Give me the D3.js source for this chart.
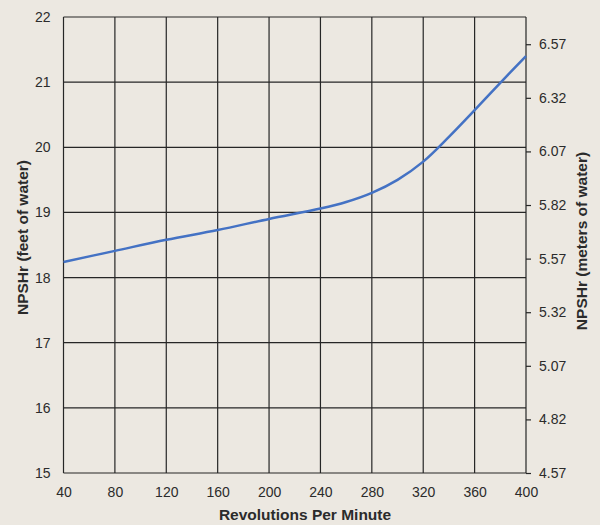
<!DOCTYPE html>
<html>
<head>
<meta charset="utf-8">
<script src="https://cdn.jsdelivr.net/npm/d3@7"></script>
<style>
  html, body { margin: 0; padding: 0; background: #ece8e1; }
  svg { display: block; }
  text { font-family: "Liberation Sans", Arial, Helvetica, sans-serif; }
</style>
</head>
<body>
<script>
// Data
const rpm  = [40, 80, 120, 160, 200, 240, 260, 280, 300, 320, 340, 360, 380, 400];
const npsh = [18.24, 18.41, 18.58, 18.73, 18.90, 19.06, 19.16, 19.30, 19.50, 19.78, 20.16, 20.57, 20.99, 21.40];
const xTicks = [40, 80, 120, 160, 200, 240, 280, 320, 360, 400];
const yTicks = [15, 16, 17, 18, 19, 20, 21, 22];
const yMetricTicks = [4.57, 4.82, 5.07, 5.32, 5.57, 5.82, 6.07, 6.32, 6.57];

const W = 600, H = 525;
const margin = { left: 63.5, right: 74, top: 17, bottom: 52 };

const svg = d3.select("body").append("svg").attr("width", W).attr("height", H);
svg.append("rect").attr("width", W).attr("height", H).attr("fill", "#ece8e1");

const x = d3.scaleLinear().domain([40, 400]).range([margin.left, W - margin.right]);
const y = d3.scaleLinear().domain([15, 22]).range([H - margin.bottom, margin.top]);
const yM = d3.scaleLinear().domain([4.57, 6.697]).range([H - margin.bottom, margin.top]);

const grid = svg.append("g");
grid.selectAll("line.h").data(yTicks).enter().append("line")
  .attr("x1", x(40)).attr("x2", x(400))
  .attr("y1", d => y(d)).attr("y2", d => y(d))
  .attr("stroke", "#262626").attr("stroke-width", 1.2);
grid.selectAll("line.v").data(xTicks).enter().append("line")
  .attr("x1", d => x(d)).attr("x2", d => x(d))
  .attr("y1", y(15)).attr("y2", y(22))
  .attr("stroke", "#262626").attr("stroke-width", 1.2);

function styleAxis(g) {
  g.select(".domain").remove();
  g.selectAll("text").attr("fill", "#2b2b2b").style("font-size", "14px")
    .style("font-family", "'Liberation Sans', Arial, Helvetica, sans-serif");
  g.selectAll("line").attr("stroke", "#262626").attr("stroke-width", 1.2);
}

svg.append("g").attr("transform", `translate(${margin.left},0)`)
  .call(d3.axisLeft(y).tickValues(yTicks).tickSize(0).tickPadding(13).tickFormat(d3.format("d")))
  .call(styleAxis);

svg.append("g").attr("transform", `translate(0,${H - margin.bottom})`)
  .call(d3.axisBottom(x).tickValues(xTicks).tickSize(0).tickPadding(14).tickFormat(d3.format("d")))
  .call(styleAxis);

svg.append("g").attr("transform", `translate(${W - margin.right},0)`)
  .call(d3.axisRight(yM).tickValues(yMetricTicks).tickSize(5).tickPadding(8).tickFormat(d3.format(".2f")))
  .call(styleAxis);

const line = d3.line().x(d => x(d[0])).y(d => y(d[1])).curve(d3.curveCatmullRom.alpha(0.5));
svg.append("path")
  .datum(rpm.map((r, i) => [r, npsh[i]]))
  .attr("d", line)
  .attr("fill", "none")
  .attr("stroke", "#4472c4")
  .attr("stroke-width", 2.5);

svg.append("text")
  .attr("x", 305).attr("y", 520)
  .attr("text-anchor", "middle").attr("fill", "#2b2b2b")
  .style("font-size", "15.5px").style("font-weight", "bold")
  .text("Revolutions Per Minute");

svg.append("text")
  .attr("transform", `translate(27.5,237.5) rotate(-90)`)
  .attr("text-anchor", "middle").attr("fill", "#2b2b2b")
  .style("font-size", "15.5px").style("font-weight", "bold")
  .text("NPSHr (feet of water)");

svg.append("text")
  .attr("transform", `translate(587,241) rotate(-90)`)
  .attr("text-anchor", "middle").attr("fill", "#2b2b2b")
  .style("font-size", "15.5px").style("font-weight", "bold")
  .text("NPSHr (meters of water)");
</script>
</body>
</html>
